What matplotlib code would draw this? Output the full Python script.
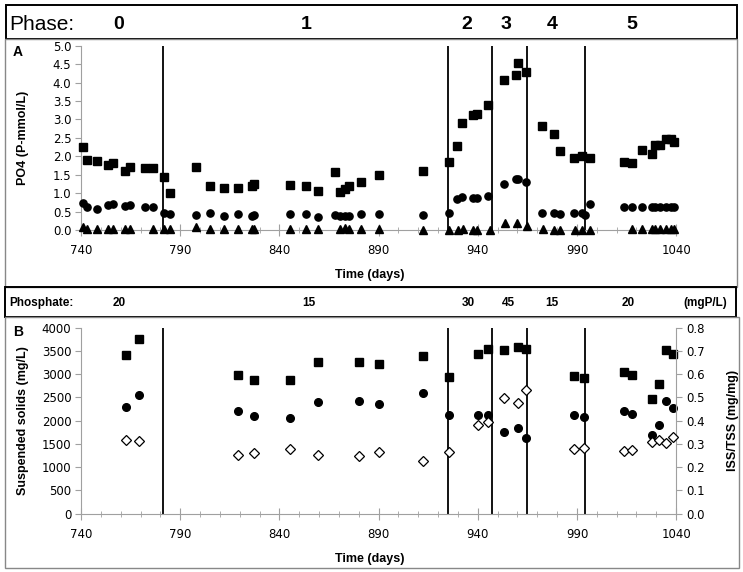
import matplotlib.pyplot as plt
import matplotlib.transforms as mtransforms
from matplotlib.patches import Rectangle
import numpy as np

# ---- panel A: PO4 (P-mmol/L) ----
days_sq = [741, 743.2, 748.2, 753.8, 756.3, 762, 764.9, 772.1, 776.1, 781.8, 785,
           798, 805, 811.9, 819.2, 826.2, 827.2, 845.2, 853.3, 859.3, 868.2, 870.6,
           873.1, 875.3, 881.2, 890.4, 912.3, 925.6, 929.3, 932.3, 937.4, 939.7,
           945.3, 953.3, 959.2, 960.5, 964.4, 972.5, 978.2, 981.4, 988.4, 992.6,
           996.7, 1013.7, 1017.7, 1022.9, 1027.8, 1029.6, 1032, 1034.8, 1037.5, 1038.9]
po4_sq = [2.25, 1.90, 1.87, 1.75, 1.81, 1.61, 1.70, 1.68, 1.68, 1.45, 1.01,
          1.70, 1.20, 1.15, 1.13, 1.18, 1.24, 1.22, 1.18, 1.06, 1.57, 1.03,
          1.11, 1.19, 1.29, 1.49, 1.61, 1.84, 2.29, 2.89, 3.13, 3.16,
          3.38, 4.06, 4.20, 4.52, 4.29, 2.81, 2.61, 2.15, 1.95, 2.00,
          1.95, 1.84, 1.82, 2.18, 2.06, 2.30, 2.31, 2.46, 2.46, 2.38]

days_ci = [741, 743.2, 748.2, 753.8, 756.3, 762, 764.9, 772.1, 776.1, 781.8, 785,
           798, 805, 811.9, 819.2, 826.2, 827.2, 845.2, 853.3, 859.3, 868.2, 870.6,
           873.1, 875.3, 881.2, 890.4, 912.3, 925.6, 929.3, 932.3, 937.4, 939.7,
           945.3, 953.3, 959.2, 960.5, 964.4, 972.5, 978.2, 981.4, 988.4, 992.6,
           993.9, 996.7, 1013.7, 1017.7, 1022.9, 1027.8, 1029.6, 1032, 1034.8,
           1037.5, 1038.9]
po4_ci = [0.72, 0.63, 0.58, 0.68, 0.70, 0.64, 0.67, 0.61, 0.61, 0.47, 0.43,
          0.41, 0.45, 0.38, 0.42, 0.39, 0.41, 0.44, 0.42, 0.36, 0.41, 0.39,
          0.39, 0.39, 0.42, 0.42, 0.40, 0.45, 0.83, 0.89, 0.88, 0.88,
          0.92, 1.24, 1.37, 1.37, 1.31, 0.45, 0.45, 0.42, 0.45, 0.45,
          0.40, 0.70, 0.61, 0.61, 0.61, 0.63, 0.63, 0.63, 0.63,
          0.63, 0.63]

days_tr = [741, 743.2, 748.2, 753.8, 756.3, 762, 764.9, 776.1, 781.8, 785,
           798, 805, 811.9, 819.2, 826.2, 827.2, 845.2, 853.3, 859.3, 870.6,
           873.1, 875.3, 881.2, 890.4, 912.3, 925.6, 929.8, 932.8, 937.4, 939.7,
           946, 953.8, 959.7, 964.8, 972.8, 978.4, 981.7, 988.8, 992.6, 996.7,
           1017.7, 1022.9, 1027.8, 1029.6, 1032, 1034.8, 1037.5, 1038.9]
po4_tr = [0.07, 0.02, 0.02, 0.02, 0.02, 0.02, 0.02, 0.02, 0.02, 0.02,
          0.07, 0.02, 0.02, 0.02, 0.02, 0.02, 0.02, 0.02, 0.02, 0.02,
          0.04, 0.02, 0.02, 0.02, 0.01, 0.01, 0.01, 0.02, 0.01, 0.01,
          0.01, 0.20, 0.20, 0.11, 0.02, 0.01, 0.01, 0.01, 0.01, 0.01,
          0.02, 0.03, 0.02, 0.02, 0.02, 0.02, 0.02, 0.02]

# ---- panel B: suspended solids ----
days_ss = [762.5, 769.4, 819.3, 827.2, 845.4, 859.3, 880.2, 890.4, 912.3, 925.6,
           940.2, 945.3, 953.3, 960.4, 964.4, 988.4, 993.7, 1013.7, 1017.7,
           1027.6, 1031.6, 1034.7, 1038.2]
tss = [3412, 3756, 2975, 2867, 2867, 3254, 3254, 3218, 3390, 2939,
       3441, 3534, 3520, 3591, 3541, 2968, 2917, 3039, 2982,
       2473, 2796, 3512, 3441]
vss = [2294, 2545, 2201, 2093, 2057, 2394, 2416, 2351, 2602, 2129,
       2122, 2122, 1749, 1849, 1627, 2115, 2079, 2201, 2136,
       1684, 1900, 2423, 2279]
iss_tss = [0.317, 0.314, 0.254, 0.261, 0.278, 0.254, 0.249, 0.267, 0.225, 0.267,
           0.380, 0.396, 0.496, 0.476, 0.530, 0.278, 0.284, 0.271, 0.275,
           0.310, 0.315, 0.304, 0.331]

phase_bounds = [781.5, 925.2, 947.3, 965.0, 994.2]
phase_names = ['0', '1', '2', '3', '4', '5']
phase_pos = [759.2, 853.5, 934.5, 954.2, 977.4, 1017.7]
phos_names = ['20', '15', '30', '45', '15', '20']
phos_pos = [759.2, 855, 935, 955.3, 977.5, 1015.8]

GREY = '#a0a0a0'
TICKFONT = 'DejaVu Sans'
LABFONT = 'Liberation Sans'

fig = plt.figure(figsize=(7.43, 5.72), dpi=100)
axA = fig.add_axes([0.109, 0.598, 0.801, 0.322])
axB = fig.add_axes([0.109, 0.102, 0.801, 0.325])
axR = axB.twinx()


def style_x(ax):
    ax.set_xlim(740, 1040)
    ax.set_xticks(np.arange(740, 1041, 50))
    ax.set_xticks(np.arange(740, 1041, 10), minor=True)
    ax.tick_params(axis='x', which='major', direction='inout', length=8,
                   color=GREY, pad=6)
    ax.tick_params(axis='x', which='minor', direction='inout', length=4,
                   color=GREY)
    for s in ['top', 'right']:
        ax.spines[s].set_visible(False)
    for s in ['left', 'bottom']:
        ax.spines[s].set_color(GREY)
    ax.tick_params(axis='y', direction='out', length=4, color=GREY, pad=3)
    for lab in ax.get_xticklabels() + ax.get_yticklabels():
        lab.set_fontfamily(TICKFONT)
        lab.set_fontsize(8.5)
    ax.set_xlabel('Time (days)', fontfamily=LABFONT, fontweight='bold',
                  fontsize=9)
    ax.xaxis.set_label_coords(0.485, -0.21)


# panel A
axA.set_ylim(0, 5)
axA.set_yticks(np.arange(0, 5.01, 0.5))
axA.set_yticklabels([f'{v:.1f}' for v in np.arange(0, 5.01, 0.5)])
style_x(axA)
axA.set_ylabel('PO4 (P-mmol/L)', fontfamily=LABFONT, fontweight='bold',
               fontsize=9)
axA.yaxis.set_label_coords(-0.088, 0.5)
for b in phase_bounds:
    axA.axvline(b, color='black', lw=1.3, zorder=1)
axA.plot(days_sq, po4_sq, 's', color='black', ms=5.2, clip_on=False, zorder=3)
axA.plot(days_ci, po4_ci, 'o', color='black', ms=5.2, clip_on=False, zorder=3)
axA.plot(days_tr, po4_tr, '^', color='black', ms=5.5, clip_on=False, zorder=3)

# panel B
axB.set_ylim(0, 4000)
axB.set_yticks(np.arange(0, 4001, 500))
style_x(axB)
axB.set_ylabel('Suspended solids (mg/L)', fontfamily=LABFONT,
               fontweight='bold', fontsize=9)
axB.yaxis.set_label_coords(-0.088, 0.5)
for b in phase_bounds:
    axB.axvline(b, color='black', lw=1.3, zorder=1)
axB.plot(days_ss, tss, 's', color='black', ms=5.5, clip_on=False, zorder=3)
axB.plot(days_ss, vss, 'o', color='black', ms=5.5, clip_on=False, zorder=3)

axR.set_ylim(0, 0.8)
axR.set_yticks(np.arange(0, 0.81, 0.1))
axR.set_yticklabels([f'{v:.1f}' for v in np.arange(0, 0.81, 0.1)])
for s in ['top', 'left', 'bottom']:
    axR.spines[s].set_visible(False)
axR.spines['right'].set_color(GREY)
axR.tick_params(axis='y', direction='out', length=4, color=GREY, pad=3)
for lab in axR.get_yticklabels():
    lab.set_fontfamily(TICKFONT)
    lab.set_fontsize(8.5)
axR.set_ylabel('ISS/TSS (mg/mg)', fontfamily=LABFONT, fontweight='bold',
               fontsize=9)
axR.yaxis.set_label_coords(1.085, 0.5)
axR.plot(days_ss, iss_tss, 'D', mfc='white', mec='black', mew=0.9, ms=5,
         clip_on=False, zorder=3)

# frames
fig.patches.append(Rectangle((0.008, 0.932), 0.984, 0.0594, transform=fig.transFigure,
                             fill=False, ec='black', lw=1.4))
fig.patches.append(Rectangle((0.0067, 0.498), 0.985, 0.434, transform=fig.transFigure,
                             fill=False, ec='#888888', lw=1.0))
fig.patches.append(Rectangle((0.0067, 0.4458), 0.984, 0.0524, transform=fig.transFigure,
                             fill=False, ec='black', lw=1.4))
fig.patches.append(Rectangle((0.0067, 0.007), 0.9875, 0.4388, transform=fig.transFigure,
                             fill=False, ec='#888888', lw=1.0))

# header texts
tA = mtransforms.blended_transform_factory(axA.transData, fig.transFigure)
fig.text(0.013, 0.958, 'Phase:', fontfamily=LABFONT, fontsize=15,
         ha='left', va='center')
for name, x in zip(phase_names, phase_pos):
    axA.text(x, 0.958, name, transform=tA, fontfamily=LABFONT, fontsize=14,
             fontweight='bold', ha='center', va='center')

tB = mtransforms.blended_transform_factory(axB.transData, fig.transFigure)
fig.text(0.013, 0.471, 'Phosphate:', fontfamily=LABFONT, fontsize=8.5,
         fontweight='bold', ha='left', va='center')
for name, x in zip(phos_names, phos_pos):
    axB.text(x, 0.471, name, transform=tB, fontfamily=LABFONT, fontsize=8.5,
             fontweight='bold', ha='center', va='center')
axB.text(1054.6, 0.471, '(mgP/L)', transform=tB, fontfamily=LABFONT,
         fontsize=8.5, fontweight='bold', ha='center', va='center')

fig.text(0.024, 0.909, 'A', fontfamily=LABFONT, fontsize=10,
         fontweight='bold', ha='center', va='center')
fig.text(0.024, 0.42, 'B', fontfamily=LABFONT, fontsize=10,
         fontweight='bold', ha='center', va='center')

fig.savefig('out.png', dpi=100)
